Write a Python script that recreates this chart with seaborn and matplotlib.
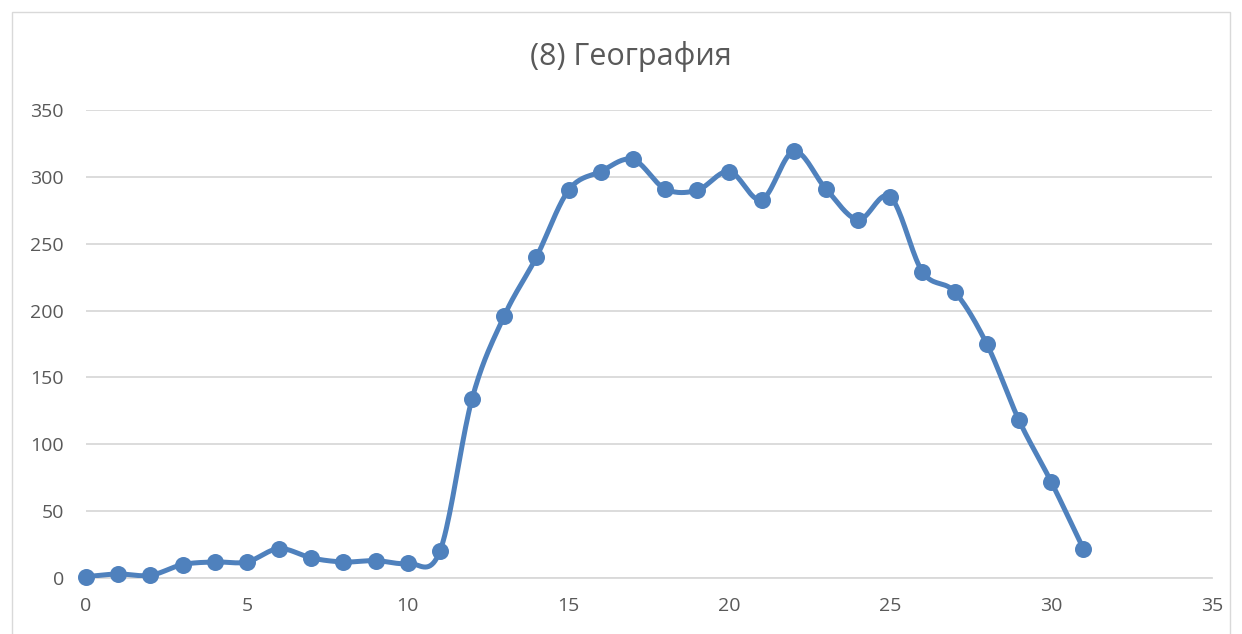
import numpy as np
import pandas as pd
import matplotlib
matplotlib.use("Agg")
import matplotlib.pyplot as plt
import seaborn as sns

# Данные графика
x_vals = list(range(32))
y_vals = [1, 3, 2, 10, 12, 12, 22, 15, 12, 13, 11, 20, 134, 196, 240, 290, 304, 313,
          291, 290, 304, 283, 319, 291, 268, 285, 229, 214, 175, 118, 72, 22]
x_ticks = [0, 5, 10, 15, 20, 25, 30, 35]
y_ticks = [0, 50, 100, 150, 200, 250, 300, 350]
title_text = "(8) География"

df = pd.DataFrame({"x": x_vals, "y": y_vals})


# Сглаживание линии как в Excel (Catmull-Rom)
def catmull_rom(p, n=20):
    p = np.concatenate([[2 * p[0] - p[1]], p, [2 * p[-1] - p[-2]]])
    t = np.linspace(0, 1, n, endpoint=False)
    out = []
    for i in range(1, len(p) - 2):
        p0, p1, p2, p3 = p[i - 1], p[i], p[i + 1], p[i + 2]
        out.extend(0.5 * ((2 * p1) + (-p0 + p2) * t
                          + (2 * p0 - 5 * p1 + 4 * p2 - p3) * t ** 2
                          + (-p0 + 3 * p1 - 3 * p2 + p3) * t ** 3))
    out.append(p[-2])
    return np.array(out)


sx = catmull_rom(np.array(x_vals, float))
sy = catmull_rom(np.array(y_vals, float))
df_smooth = pd.DataFrame({"x": sx, "y": sy})

sns.set_style("white")
plt.rcParams["font.family"] = ["Open Sans", "DejaVu Sans"]

fig = plt.figure(figsize=(12.42, 6.34), dpi=100)
ax = fig.add_axes([86 / 1242, 56 / 634, 1126 / 1242, 468 / 634])

color = "#4F81BD"
sns.lineplot(data=df_smooth, x="x", y="y", ax=ax, color=color, linewidth=3.6,
             sort=False, estimator=None, zorder=3)
sns.scatterplot(data=df, x="x", y="y", ax=ax, color=color, s=150,
                edgecolor=color, linewidth=0, zorder=4, clip_on=False)

ax.set_xlim(0, 35)
ax.set_ylim(0, 350)
ax.set_xticks(x_ticks)
ax.set_yticks(y_ticks)
ax.set_xlabel("")
ax.set_ylabel("")
ax.grid(axis="y", color="#d9d9d9", linewidth=1.3)
ax.set_axisbelow(True)
for s in ["top", "right", "left"]:
    ax.spines[s].set_visible(False)
ax.spines["bottom"].set_color("#d9d9d9")
ax.spines["bottom"].set_linewidth(1.3)
ax.tick_params(axis="both", length=0, labelsize=14, colors="#595959")
ax.tick_params(axis="y", pad=16)
ax.tick_params(axis="x", pad=14)

fig.text(631 / 1242, 1 - 56 / 634, title_text, ha="center", va="center",
         fontsize=22, color="#595959")

# Рамка вокруг диаграммы
fig.patches.append(plt.Rectangle((12 / 1242, -0.02), 1218 / 1242, 1 - 12 / 634 + 0.02,
                                 transform=fig.transFigure, fill=False,
                                 edgecolor="#d9d9d9", linewidth=1))

plt.savefig("out.png", dpi=100)
